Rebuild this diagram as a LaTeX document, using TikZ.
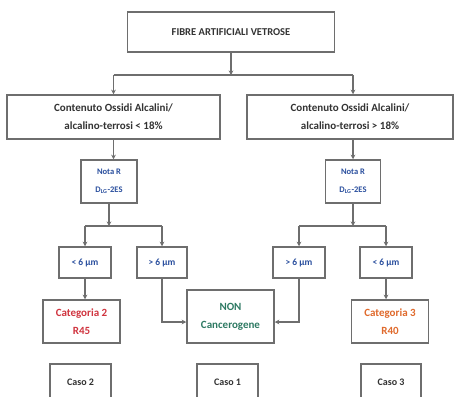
\documentclass[tikz,border=0pt]{standalone}
\usepackage{fontspec}
\setmainfont{Carlito}
\usetikzlibrary{arrows.meta,calc}
\definecolor{lncol}{HTML}{6E6E6E}
\definecolor{txdark}{HTML}{333333}
\definecolor{txblue}{HTML}{2A4F9E}
\definecolor{txred}{HTML}{D0343F}
\definecolor{txorange}{HTML}{E06A2C}
\definecolor{txgreen}{HTML}{2E7A63}
\tikzset{
  boxbase/.style={draw=lncol, line width=1.5pt, fill=white, align=center, inner sep=1pt,
    font=\bfseries\fontsize{11}{18}\selectfont, text=txdark},
  bluebox/.style={boxbase, text=txblue, font=\bfseries\fontsize{8.5}{18}\selectfont},
  smallblue/.style={boxbase, text=txblue, font=\bfseries\fontsize{9.5}{12}\selectfont},
  casobox/.style={boxbase, font=\bfseries\fontsize{10}{12}\selectfont},
  conn/.style={draw=lncol, line width=1.5pt},
  arr/.style={conn, -{Stealth[length=4.5pt,width=4.5pt]}},
}
\begin{document}
\begin{tikzpicture}[x=1pt,y=-1pt]
\useasboundingbox (0,0) rectangle (454,396);
\clip (0,0) rectangle (454,396);
\fill[white] (0,0) rectangle (454,396);
% nodes
\node[boxbase, font=\bfseries\fontsize{10.5}{12}\selectfont, minimum width=207, minimum height=40] (top) at (231,32) {FIBRE ARTIFICIALI VETROSE};
\node[boxbase, minimum width=213, minimum height=44] (c1) at (113.5,117) {Contenuto Ossidi Alcalini/\\alcalino-terrosi < 18\%};
\node[boxbase, minimum width=206, minimum height=44] (c2) at (350,117) {Contenuto Ossidi Alcalini/\\alcalino-terrosi > 18\%};
\node[bluebox, minimum width=56, minimum height=43] (n1) at (109,181.5) {Nota R\\D\textsubscript{LG}-2ES};
\node[bluebox, minimum width=55, minimum height=43] (n2) at (353,181.5) {Nota R\\D\textsubscript{LG}-2ES};
\node[smallblue, minimum width=52, minimum height=31] (m1) at (85,262.5) {< 6 µm};
\node[smallblue, minimum width=50, minimum height=31] (m2) at (162,262.5) {> 6 µm};
\node[smallblue, minimum width=52, minimum height=31] (m3) at (299,262.5) {> 6 µm};
\node[smallblue, minimum width=52, minimum height=31] (m4) at (386,262.5) {< 6 µm};
\node[boxbase, text=txred, minimum width=77, minimum height=43] (cat2) at (81.5,321.5) {Categoria 2\\R45};
\node[boxbase, text=txgreen, minimum width=87, minimum height=53] (non) at (230.5,316.5) {NON\\Cancerogene};
\node[boxbase, text=txorange, minimum width=77, minimum height=43] (cat3) at (390,321.5) {Categoria 3\\R40};
\node[casobox, minimum width=61, minimum height=36] (caso2) at (80.5,382) {Caso 2};
\node[casobox, minimum width=61, minimum height=36] (caso1) at (227.5,382) {Caso 1};
\node[casobox, minimum width=60, minimum height=36] (caso3) at (391,382) {Caso 3};
% junctions
\coordinate (j0) at (top.south |- 0,75);
\coordinate (jL) at (c1.north |- j0);
\coordinate (jR) at (n2.north |- j0);
\coordinate (k1) at (n1.south |- 0,226);
\coordinate (k2) at (n2.south |- 0,226);
% connectors
\draw[arr] (top.south) -- (j0);
\draw[conn] (jL) -- (jR);
\draw[arr] (jL) -- (jL |- c1.north);
\draw[arr] (jR) -- (jR |- c2.north);
\draw[arr] (jL |- c1.south) -- (jL |- n1.north);
\draw[arr] (jR |- c2.south) -- (n2.north);
\draw[arr] (n1.south) -- (k1);
\draw[arr] (n2.south) -- (k2);
\draw[conn] (m1.north |- k1) -- (m2.north |- k1);
\draw[conn] (m3.north |- k2) -- (m4.north |- k2);
\draw[arr] (m1.north |- k1) -- (m1.north);
\draw[arr] (m2.north |- k1) -- (m2.north);
\draw[arr] (m3.north |- k2) -- (m3.north);
\draw[arr] (m4.north |- k2) -- (m4.north);
\draw[arr] (m1.south) -- (m1.south |- cat2.north);
\draw[arr] (m4.south) -- (m4.south |- cat3.north);
\draw[arr] (m2.south) |- ($(non.west)+(0,5.5)$);
\draw[arr] (m3.south) |- ($(non.east)+(0,5.5)$);
\end{tikzpicture}
\end{document}
